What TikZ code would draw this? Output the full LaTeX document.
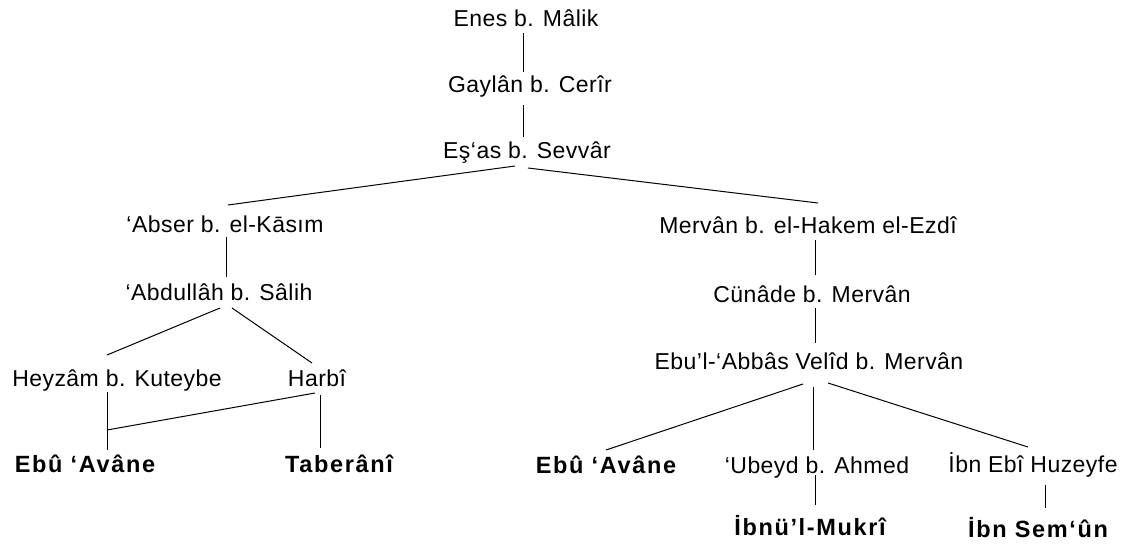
\documentclass[tikz,border=0pt]{standalone}
\usepackage{fontspec}
\setmainfont{Liberation Sans}
\begin{document}
\begin{tikzpicture}[x=1pt,y=-1pt,
  person/.style={anchor=base,inner sep=0pt,font=\addfontfeature{LetterSpace=2}\fontsize{23}{27}\selectfont},
  leaf/.style={anchor=base,inner sep=0pt,font=\addfontfeature{LetterSpace=7}\fontsize{23.5}{28}\selectfont\bfseries},
  link/.style={draw=black,line width=1pt}]
\fill[white] (0,0) rectangle (1127,546);
\useasboundingbox (0,0) rectangle (1127,546);

% people in the chain
\node[person] (enes)     at (526,26)  {Enes b. Mâlik};
\node[person] (gaylan)   at (530,92)  {Gaylân b. Cerîr};
\node[person] (esas)     at (527,158) {Eş‘as b. Sevvâr};
\node[person] (abser)    at (225,232) {‘Abser b. el-Kāsım};
\node[person] (abdullah) at (219,300) {‘Abdullâh b. Sâlih};
\node[person] (heyzam)   at (117,386) {Heyzâm b. Kuteybe};
\node[person] (harbi)    at (317,386) {Harbî};
\node[leaf] (avaneA)     at (85,472)  {Ebû ‘Avâne};
\node[leaf] (taberani)   at (339,472) {Taberânî};
\node[person] (mervan)   at (808,233) {Mervân b. el-Hakem el-Ezdî};
\node[person] (cunade)   at (812,302) {Cünâde b. Mervân};
\node[person] (ebul)     at (809,369) {Ebu’l-‘Abbâs Velîd b. Mervân};
\node[leaf] (avaneB)     at (606,473) {Ebû ‘Avâne};
\node[person] (ubeyd)    at (817,473) {‘Ubeyd b. Ahmed};
\node[person] (huzeyfe)  at (1033,472) {İbn Ebî Huzeyfe};
\node[leaf] (mukri)      at (810,535) {İbnü’l-Mukrî};
\node[leaf] (semun)      at (1038,537) {İbn Sem‘ûn};

\coordinate (join) at (107,430);

% transmission lines
\draw[link] ([shift={(-3,7)}]enes.base) -- ([shift={(-7,-20)}]gaylan.base);
\draw[link] ([shift={(-7,13)}]gaylan.base) -- ([shift={(-4,-21)}]esas.base);
\draw[link] ([shift={(-12,8)}]esas.base) -- ([shift={(3,-27)}]abser.base);
\draw[link] ([shift={(1,10)}]esas.base) -- ([shift={(10,-30)}]mervan.base);
\draw[link] ([shift={(1,5)}]abser.base) -- ([shift={(7,-23)}]abdullah.base);
\draw[link] ([shift={(1,8)}]abdullah.base) -- ([shift={(-10,-31)}]heyzam.base);
\draw[link] ([shift={(13,8)}]abdullah.base) -- ([shift={(-5,-23)}]harbi.base);
\draw[link] ([shift={(-10,6)}]heyzam.base) -- ([shift={(22,-22)}]avaneA.base);
\draw[link] ([shift={(3,9)}]harbi.base) -- ([shift={(-19,-24)}]taberani.base);
\draw[link] ([shift={(-2,7)}]harbi.base) -- (join);
\draw[link] ([shift={(7,7)}]mervan.base) -- ([shift={(3,-27)}]cunade.base);
\draw[link] ([shift={(3,6)}]cunade.base) -- ([shift={(6,-26)}]ebul.base);
\draw[link] ([shift={(-6,15)}]ebul.base) -- ([shift={(0,-23)}]avaneB.base);
\draw[link] ([shift={(4,18)}]ebul.base) -- ([shift={(-4,-23)}]ubeyd.base);
\draw[link] ([shift={(19,14)}]ebul.base) -- ([shift={(-5,-25)}]huzeyfe.base);
\draw[link] ([shift={(-2,2)}]ubeyd.base) -- ([shift={(5,-30)}]mukri.base);
\draw[link] ([shift={(12,13)}]huzeyfe.base) -- ([shift={(7,-29)}]semun.base);
\end{tikzpicture}
\end{document}
